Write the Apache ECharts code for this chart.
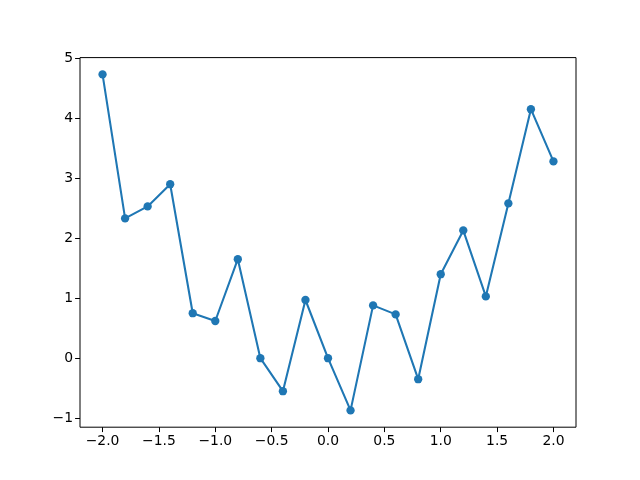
<!DOCTYPE html>
<html><head><meta charset="utf-8">
<script src="https://cdn.jsdelivr.net/npm/echarts@6/dist/echarts.min.js"></script>
<style>html,body{margin:0;padding:0;background:#fff}#c{width:640px;height:480px}</style>
</head><body><div id="c"></div>
<script>
const xValues = [-2.0,-1.8,-1.6,-1.4,-1.2,-1.0,-0.8,-0.6,-0.4,-0.2,0.0,0.2,0.4,0.6,0.8,1.0,1.2,1.4,1.6,1.8,2.0];
const yValues = [4.73,2.33,2.53,2.90,0.75,0.62,1.65,0.00,-0.55,0.97,0.00,-0.87,0.88,0.73,-0.35,1.40,2.13,1.03,2.58,4.15,3.28];
const xTicks = [-2.0,-1.5,-1.0,-0.5,0.0,0.5,1.0,1.5,2.0];
const yTicks = [-1,0,1,2,3,4,5];

const fmt = (v,d) => { const s = Math.abs(v).toFixed(d); return (v < 0 ? '\u2212' : '') + s; };
const font = {fontFamily:'DejaVu Sans', fontSize:13.9, color:'#000'};
const chart = echarts.init(document.getElementById('c'), null, {renderer:'canvas'});
chart.setOption({
  animation:false,
  grid:{left:80,right:64,top:57.6,bottom:52.8,show:true,borderColor:'#000',borderWidth:1,backgroundColor:'transparent'},
  xAxis:{type:'value',min:-2.2,max:2.2,splitLine:{show:false},
    axisLine:{show:false,onZero:false},
    axisTick:{show:true,length:4.9,lineStyle:{color:'#000',width:1},customValues:xTicks},
    axisLabel:Object.assign({margin:7,customValues:xTicks,formatter:v=>fmt(v,1)},font)},
  yAxis:{type:'value',min:-1.15,max:5.01,splitLine:{show:false},
    axisLine:{show:false,onZero:false},
    axisTick:{show:true,length:4.9,lineStyle:{color:'#000',width:1},customValues:yTicks},
    axisLabel:Object.assign({margin:7,customValues:yTicks,formatter:v=>fmt(v,0)},font)},
  series:[{type:'line',data:xValues.map((x,i)=>[x,yValues[i]]),
    lineStyle:{color:'#1f77b4',width:2.08},itemStyle:{color:'#1f77b4'},
    symbol:'circle',symbolSize:8.33,showSymbol:true}]
});
</script></body></html>
